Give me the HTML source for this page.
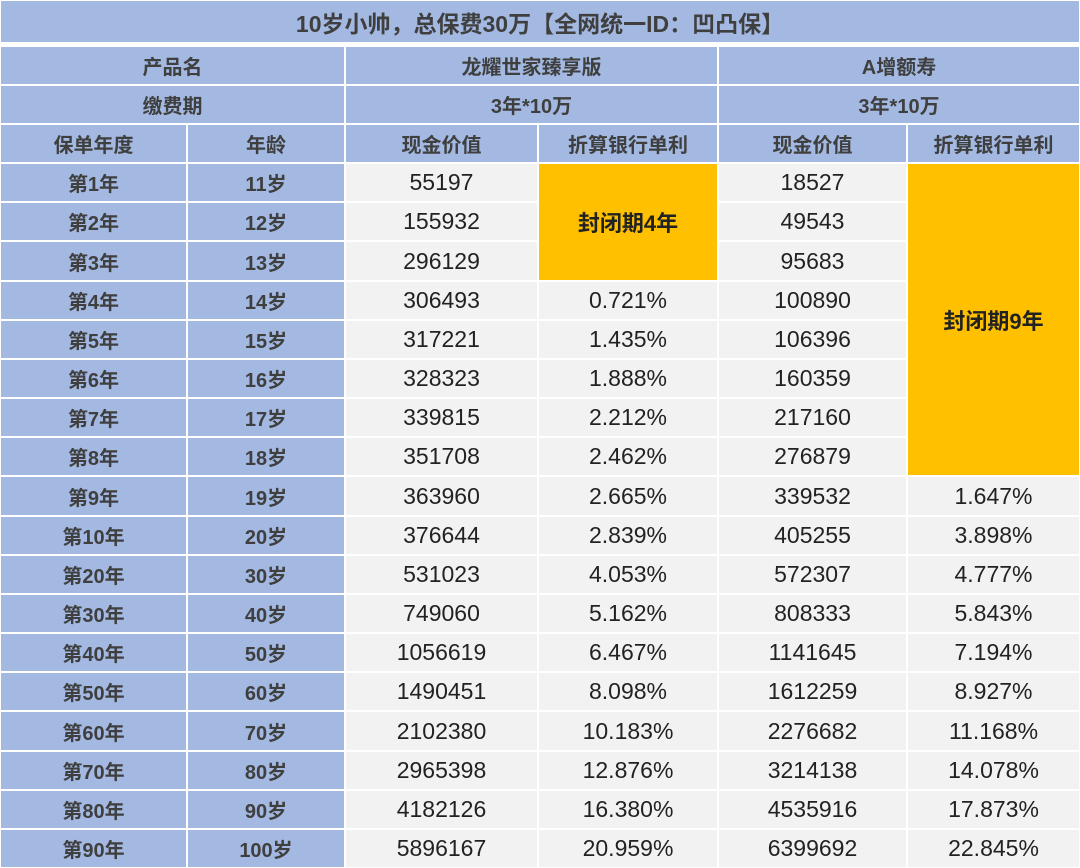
<!DOCTYPE html>
<html><head><meta charset="utf-8">
<style>
body{margin:0;width:1080px;height:868px;background:#fff;position:relative;overflow:hidden;font-family:"Liberation Sans","Noto Sans CJK SC",sans-serif;}
.c{position:absolute;display:flex;align-items:center;justify-content:center;box-sizing:border-box;color:#222;font-size:23px;}
.h{background:#a3b9e2;font-weight:bold;color:#3f3f3f;font-size:20px;}
.d{background:#f2f2f2;}
.o{background:#ffc000;font-weight:bold;color:#222;font-size:22px;}
</style></head><body>
<div class="c h" style="left:1px;top:1px;width:1078px;height:41px;font-size:23px;">10岁小帅，总保费30万【全网统一ID：凹凸保】</div>
<div id="t"></div>
<script>
const years=["第1年","第2年","第3年","第4年","第5年","第6年","第7年","第8年","第9年","第10年","第20年","第30年","第40年","第50年","第60年","第70年","第80年","第90年"];
const ages=["11岁","12岁","13岁","14岁","15岁","16岁","17岁","18岁","19岁","20岁","30岁","40岁","50岁","60岁","70岁","80岁","90岁","100岁"];
const cashA=["55197","155932","296129","306493","317221","328323","339815","351708","363960","376644","531023","749060","1056619","1490451","2102380","2965398","4182126","5896167"];
const rateA=["","","","0.721%","1.435%","1.888%","2.212%","2.462%","2.665%","2.839%","4.053%","5.162%","6.467%","8.098%","10.183%","12.876%","16.380%","20.959%"];
const cashB=["18527","49543","95683","100890","106396","160359","217160","276879","339532","405255","572307","808333","1141645","1612259","2276682","3214138","4535916","6399692"];
const rateB=["","","","","","","","","1.647%","3.898%","4.777%","5.843%","7.194%","8.927%","11.168%","14.078%","17.873%","22.845%"];
const X=[0,187,345,538,718,907,1080];
const T=document.getElementById('t');
function cell(c0,c1,y0,y1,txt,cls,name){
  const e=document.createElement('div');
  e.className='c '+cls;
  e.style.left=(X[c0]+1)+'px';e.style.width=(X[c1]-X[c0]-2)+'px';
  e.style.top=(y0+1)+'px';e.style.height=(y1-y0-2)+'px';
  e.textContent=txt;
  
  
  T.appendChild(e);
}
cell(0,2,46,85,"产品名","h","product-name-label");
cell(2,4,46,85,"龙耀世家臻享版","h","product-a-name");
cell(4,6,46,85,"A增额寿","h","product-b-name");
cell(0,2,85,124,"缴费期","h","pay-period-label");
cell(2,4,85,124,"3年*10万","h","product-a-pay-period");
cell(4,6,85,124,"3年*10万","h","product-b-pay-period");
const hd=["保单年度","年龄","现金价值","折算银行单利","现金价值","折算银行单利"];
hd.forEach((h,i)=>cell(i,i+1,124,163,h,"h","column-header"));
const R=i=>Math.round(163+i*(705/18));
for(let i=0;i<18;i++){
  cell(0,1,R(i),R(i+1),years[i],"h","policy-year");
  cell(1,2,R(i),R(i+1),ages[i],"h","age");
  cell(2,3,R(i),R(i+1),cashA[i],"d","cash-value-a");
  if(i>=3)cell(3,4,R(i),R(i+1),rateA[i],"d","rate-a");
  cell(4,5,R(i),R(i+1),cashB[i],"d","cash-value-b");
  if(i>=8)cell(5,6,R(i),R(i+1),rateB[i],"d","rate-b");
}
cell(3,4,R(0),R(3),"封闭期4年","o","lock-period-a");
cell(5,6,R(0),R(8),"封闭期9年","o","lock-period-b");
</script>
</body></html>
